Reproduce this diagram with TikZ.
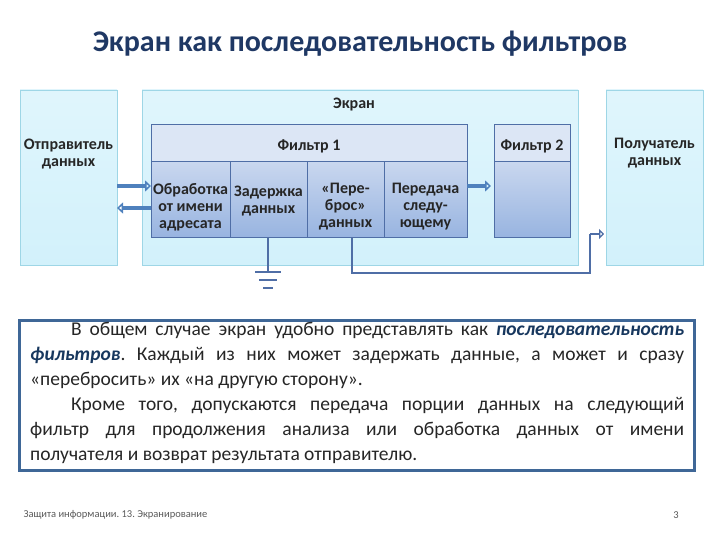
\documentclass[tikz,border=0pt]{standalone}
\usepackage{fontspec}
\setmainfont{Carlito}
\usetikzlibrary{arrows.meta}
\definecolor{cyanF}{HTML}{D2F1FB}
\definecolor{cyanB}{HTML}{9ED6E6}
\definecolor{hdrF}{HTML}{DCE6F5}
\definecolor{bodyT}{HTML}{C9D7EF}
\definecolor{bodyB}{HTML}{98B4E0}
\definecolor{fB}{HTML}{4F6EA6}
\definecolor{arr}{HTML}{4F81BD}
\definecolor{ttl}{HTML}{1F3864}
\definecolor{em}{HTML}{17375E}
\frenchspacing
\begin{document}
\begin{tikzpicture}[x=1pt,y=-1pt,
  outer/.style={draw=cyanB,line width=0.8pt,top color=cyanF!70,bottom color=cyanF},
  hdr/.style={draw=fB,line width=1pt,fill=hdrF},
  cell/.style={draw=fB,line width=1pt,top color=bodyT,bottom color=bodyB},
  lbl/.style={font=\fontsize{16}{17}\selectfont\bfseries,align=center,text=black!85},
  ar/.style={draw=arr,line width=3.5pt,-{Triangle[open,length=6pt,width=11pt,line width=1.6pt]}},
  wire/.style={draw=fB,line width=2pt}]
\useasboundingbox (0,0) rectangle (720,540);
\node[font=\fontsize{30}{34}\selectfont\bfseries,text=ttl] (title) at (360,44) {Экран как последовательность фильтров};
\path[outer] (20,90) rectangle (117,265);
\node[lbl,anchor=north] (snd) at (68.5,135) {Отправитель\\данных};
\path[outer] (142,90) rectangle (578,265);
\node[lbl] (scr) at (354,105) {Экран};
\path[outer] (606,90) rectangle (703,265);
\node[lbl,anchor=north] (rcv) at (654.5,135) {Получатель\\данных};
\path[hdr] (151,125) rectangle (467,162);
\node[lbl] (f1) at (309,146) {Фильтр 1};
\path[hdr] (494,125) rectangle (570,162);
\node[lbl] (f2) at (532,146) {Фильтр 2};
\path[cell] (151,162) rectangle (230,237);
\path[cell] (230,162) rectangle (307,237);
\path[cell] (307,162) rectangle (384,237);
\path[cell] (384,162) rectangle (467,237);
\path[cell] (494,162) rectangle (570,237);
\node[lbl] (c1) at (190.5,207) {Обработка\\от имени\\адресата};
\node[lbl] (c2) at (268.5,201) {Задержка\\данных};
\node[lbl] (c3) at (345.5,207) {«Пере-\\брос»\\данных};
\node[lbl] (c4) at (425.5,207) {Передача\\следу-\\ющему};
\coordinate (a1s) at (117,186); \coordinate (a1e) at (151,186);
\coordinate (a2s) at (151,208); \coordinate (a2e) at (117,208);
\coordinate (a3s) at (467,186); \coordinate (a3e) at (491,186);
\draw[ar] (a1s) -- (a1e);
\draw[ar] (a2s) -- (a2e);
\draw[ar] (a3s) -- (a3e);
\coordinate (g0) at (268,237); \coordinate (g1) at (268,272);
\draw[wire] (g0) -- (g1);
\draw[wire] (255,272) -- (281,272);
\draw[wire] (259,280) -- (277,280);
\draw[wire] (263,288) -- (273,288);
\coordinate (p0) at (352,237); \coordinate (p1) at (352,273);
\coordinate (p2) at (590,273); \coordinate (p3) at (590,234);
\coordinate (p4) at (604,234);
\draw[wire] (p0) -- (p1) -- (p2) -- (p3);
\draw[draw=fB,line width=2pt,-{Triangle[open,length=5pt,width=10pt,line width=1.4pt]}] (p3) -- (p4);
\node[draw=arr!80!black,line width=2.5pt,fill=white,minimum width=675pt,minimum height=150pt,anchor=north west,inner sep=0pt] (tb) at (18,319) {};
\node[anchor=north west,text width=654pt,align=justify,inner sep=0pt,font=\fontsize{19.5}{25}\selectfont,text=black!85] (txt) at (30,322) {\frenchspacing\hspace*{2.1em}В общем случае экран удобно представлять как \textbf{\textit{\color{em}последовательность фильтров}}. Каждый из них может задержать данные, а может и сразу\linebreak «перебросить» их «на другую сторону».\par\hspace*{2.1em}Кроме того, допускаются передача порции данных на следующий\linebreak фильтр для продолжения анализа или обработка данных от имени\linebreak получателя и возврат результата отправителю.};
\node[anchor=west,font=\fontsize{10.5}{11}\selectfont,text=black!65] (ft) at (20,515) {Защита информации. 13. Экранирование};
\node[font=\fontsize{10.5}{11}\selectfont,text=black!65] (pg) at (676,515) {3};
\end{tikzpicture}
\end{document}
